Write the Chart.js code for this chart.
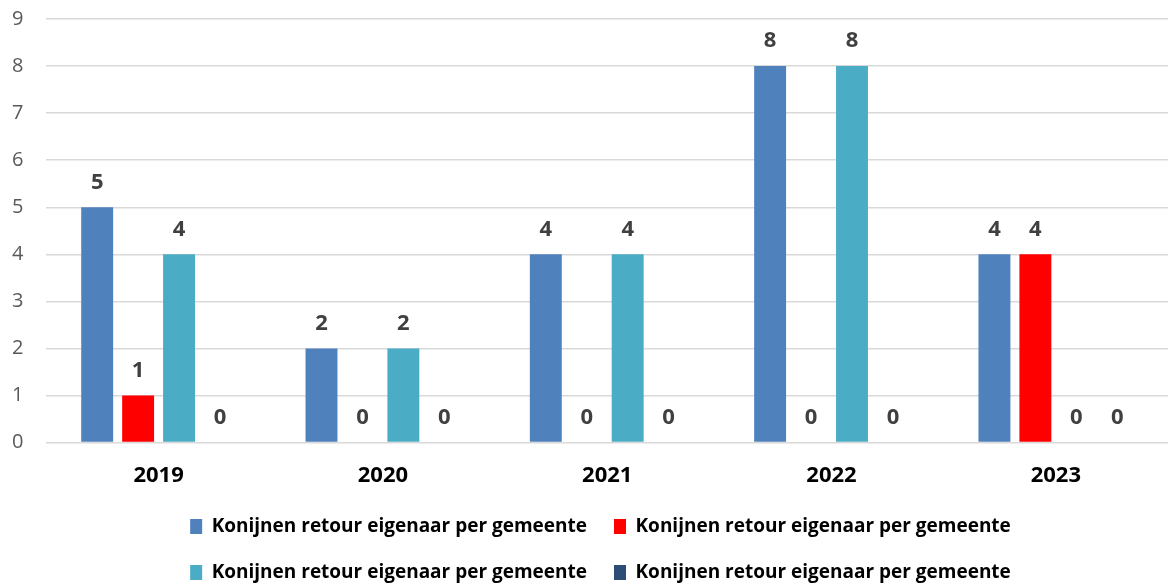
<!DOCTYPE html>
<html>
<head>
<meta charset="utf-8">
<script src="https://cdn.jsdelivr.net/npm/chart.js@4"></script>
<style>
  html, body { margin: 0; padding: 0; background: #fff; }
  #wrap { width: 1168px; height: 585px; position: relative; }
</style>
</head>
<body>
<div id="wrap"><canvas id="c"></canvas></div>
<script>
const categories = ['2019', '2020', '2021', '2022', '2023'];
const seriesNames = [
  'Konijnen retour eigenaar per gemeente',
  'Konijnen retour eigenaar per gemeente',
  'Konijnen retour eigenaar per gemeente',
  'Konijnen retour eigenaar per gemeente'
];
const series1 = [5, 2, 4, 8, 4];
const series2 = [1, 0, 0, 0, 4];
const series3 = [4, 2, 4, 8, 0];
const series4 = [0, 0, 0, 0, 0];
const yTicks = [0, 1, 2, 3, 4, 5, 6, 7, 8, 9];

const colors = ['#4F81BD', '#FF0000', '#4BACC6', '#2C4D75'];
const FONT = "'Open Sans', 'Liberation Sans', sans-serif";

const valueLabels = {
  id: 'valueLabels',
  afterDatasetsDraw(chart) {
    const ctx = chart.ctx;
    ctx.save();
    ctx.font = "bold 22px " + FONT;
    ctx.fillStyle = '#404040';
    ctx.textAlign = 'center';
    ctx.textBaseline = 'middle';
    chart.data.datasets.forEach((ds, i) => {
      const meta = chart.getDatasetMeta(i);
      meta.data.forEach((el, j) => {
        ctx.fillText(String(ds.data[j]), el.x, el.y - 25);
      });
    });
    ctx.restore();
  }
};

// shift the legend block slightly right, as in the reference
const legendShift = {
  id: 'legendShift',
  afterLayout(chart) {
    if (chart.legend) { chart.legend.left += 44; }
  }
};

const allSeries = [series1, series2, series3, series4];
new Chart(document.getElementById('c'), {
  type: 'bar',
  data: {
    labels: categories,
    datasets: allSeries.map((d, i) => ({
      label: seriesNames[i],
      data: d,
      backgroundColor: colors[i],
      borderWidth: 0,
      categoryPercentage: 0.73,
      barPercentage: 0.78
    }))
  },
  options: {
    responsive: true,
    maintainAspectRatio: false,
    animation: false,
    layout: { padding: { top: 19, left: -11, right: 0, bottom: -7 } },
    plugins: {
      legend: {
        position: 'bottom',
        labels: {
          font: { family: FONT, size: 19, weight: 'bold' },
          color: '#000',
          boxWidth: 12,
          boxHeight: 15,
          padding: 27
        }
      },
      tooltip: { enabled: false }
    },
    scales: {
      x: {
        grid: { display: false, drawTicks: false },
        border: { display: false },
        ticks: { font: { family: FONT, size: 22, weight: 'bold' }, color: '#000', padding: 20 },
        afterFit(scale) { scale.height -= 19; }
      },
      y: {
        min: 0, max: 9,
        afterBuildTicks(axis) { axis.ticks = yTicks.map(v => ({ value: v })); },
        afterFit(scale) { scale.paddingTop = 0; scale.paddingBottom = 0; },
        grid: { color: '#D9D9D9', lineWidth: 1.5, drawTicks: false },
        border: { display: false },
        ticks: { font: { family: FONT, size: 20 }, color: '#595959', padding: 23 }
      }
    }
  },
  plugins: [valueLabels, legendShift]
});
</script>
</body>
</html>
